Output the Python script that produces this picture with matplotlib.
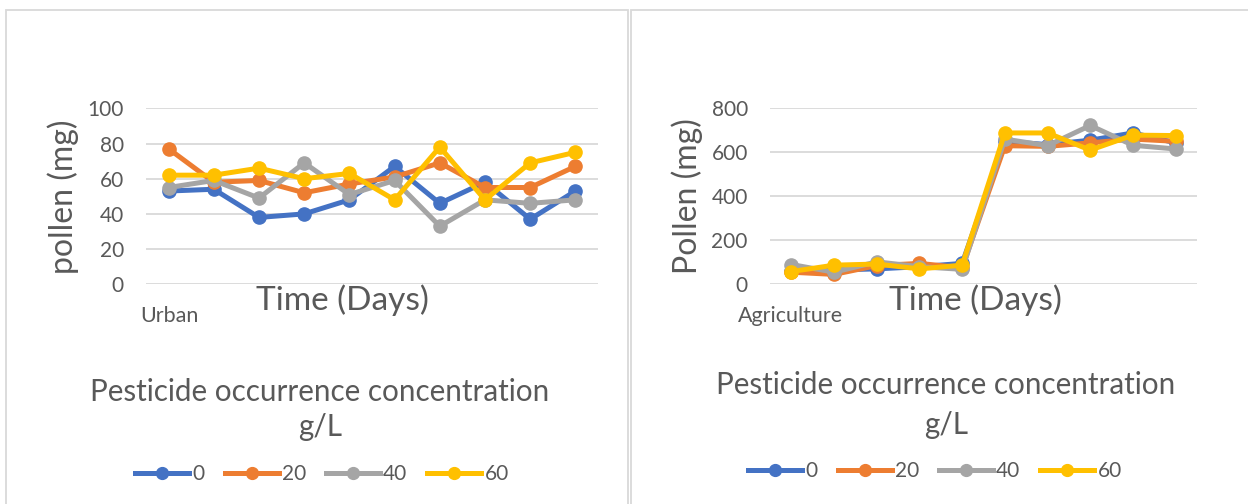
import matplotlib
matplotlib.use("Agg")
import matplotlib.pyplot as plt
from matplotlib.lines import Line2D
from matplotlib.patches import Rectangle

plt.rcParams["font.family"] = ["Lato", "DejaVu Sans"]

# pollen readings per day, one series per pesticide concentration (g/L)
days = list(range(1, 11))
series_names = ["0", "20", "40", "60"]
colors = ["#4472C4", "#ED7D31", "#A5A5A5", "#FFC000"]

urban_0 = [53, 54, 38, 40, 48, 67, 46, 58, 37, 53]
urban_20 = [77, 58, 59, 52, 57, 61, 69, 55, 55, 67]
urban_40 = [55, 59, 49, 69, 51, 59, 33, 48, 46, 48]
urban_60 = [62, 62, 66, 60, 63, 48, 78, 48, 69, 75]

agri_0 = [60, 65, 70, 80, 95, 650, 635, 655, 688, 643]
agri_20 = [55, 45, 85, 95, 75, 630, 627, 643, 660, 650]
agri_40 = [90, 55, 102, 80, 68, 660, 630, 722, 632, 615]
agri_60 = [58, 87, 92, 70, 87, 688, 688, 610, 678, 676]

GRID = "#d9d9d9"
TEXT = "#595959"
W, H = 1248, 504

fig = plt.figure(figsize=(12.48, 5.04), dpi=100)

# chart frames
for x0, w in [(6, 622), (631, 640)]:
    fig.add_artist(Rectangle((x0 / W, -0.1), w / W, (494 / H) + 0.1,
                             transform=fig.transFigure, fill=False,
                             edgecolor=GRID, linewidth=1.3))


def draw_panel(ax, data, ymax, ystep, ylabel, tag, tag_x, time_x,
               title_x, title_y, leg_x, leg_y):
    for vals, name, c in zip(data, series_names, colors):
        ax.plot(range(len(vals)), vals, color=c, lw=3.6, marker="o",
                markersize=9.5, label=name, solid_capstyle="round")
    ax.set_xlim(-0.5, len(days) - 0.5)
    ax.set_ylim(0, ymax)
    ax.set_yticks(range(0, ymax + 1, ystep))
    ax.set_xticks([])
    ax.grid(axis="y", color=GRID, lw=1.3)
    ax.set_axisbelow(True)
    for s in ax.spines.values():
        s.set_visible(False)
    ax.tick_params(axis="y", length=0, pad=16, labelsize=15, labelcolor=TEXT)
    ax.set_ylabel(ylabel, fontsize=23, color=TEXT, labelpad=6)
    fig.text(time_x / W, 1 - 300 / H, "Time (Days)", fontsize=24,
             color=TEXT, ha="center", va="center")
    fig.text(tag_x / W, 1 - 316 / H, tag, fontsize=15.5, color=TEXT,
             ha="left", va="center")
    fig.text(title_x / W, 1 - title_y[0] / H,
             "Pesticide occurrence concentration", fontsize=21.3,
             color=TEXT, ha="center", va="center")
    fig.text(title_x / W, 1 - title_y[1] / H, "g/L", fontsize=21.3,
             color=TEXT, ha="center", va="center")
    handles = [Line2D([], [], color=c, lw=3.6, marker="o", markersize=8.5)
               for c in colors]
    fig.legend(handles, series_names, loc="center",
               bbox_to_anchor=(leg_x / W, 1 - leg_y / H),
               ncol=4, frameon=False, fontsize=15, handlelength=2.6,
               handletextpad=0.15, columnspacing=0.95, labelcolor=TEXT)


ax1 = fig.add_axes([146 / W, 1 - 284.3 / H, 452 / W, 176 / H])
draw_panel(ax1, [urban_0, urban_20, urban_40, urban_60], 100, 20,
           "pollen (mg)", "Urban", 140, 342, 320, (392, 427), 322, 474)

ax2 = fig.add_axes([770 / W, 1 - 284.3 / H, 427 / W, 176 / H])
draw_panel(ax2, [agri_0, agri_20, agri_40, agri_60], 800, 200,
           "Pollen (mg)", "Agriculture", 738, 975, 946, (385, 425), 935, 471)

fig.savefig("out.png", dpi=100)
